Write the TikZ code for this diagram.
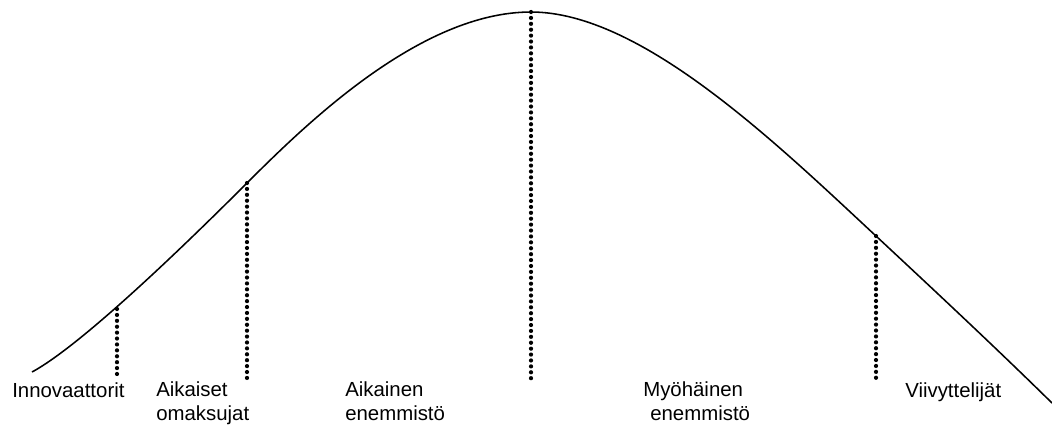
\documentclass[tikz,border=0pt]{standalone}
\usepackage{fontspec}
\setmainfont{Liberation Sans}
\usetikzlibrary{positioning}

\begin{document}
\begin{tikzpicture}[
  x=0.025cm, y=-0.025cm,
  font=\fontsize{14.5}{16.4}\selectfont,
  curve/.style={line width=1.1pt, line join=round},
  divider/.style={line width=3pt, line cap=round, dash pattern=on 0pt off 4.2pt},
  group/.style={anchor=base west, align=left, inner sep=0pt}
]
\useasboundingbox (0,0) rectangle (1052,424);
\coordinate (start) at (32,372);
\coordinate (earlytop) at (247,183);
\coordinate (peak) at (531,12);
\coordinate (latetop) at (876,236);
\coordinate (finish) at (1052,403);
\coordinate (innotop) at (117,309);
\coordinate (base) at (0,379);
\draw[curve] (start) .. controls (82,345) and (187,243) .. (earlytop)
  .. controls (307,123) and (421,12) .. (peak)
  .. controls (641,12) and (776,143) .. (latetop)
  .. controls (935,291) and (995,347) .. (finish);
\draw[divider] (innotop) -- (innotop |- base);
\draw[divider] (earlytop) -- (earlytop |- base);
\draw[divider] (peak) -- (peak |- base);
\draw[divider] (latetop) -- (latetop |- base);
\node[group] (inno) at (12,397) {Innovaattorit};
\node[group] (early) at (156,420) {Aikaiset\\omaksujat};
\node[group] (earlymaj) at (345,420) {Aikainen\\enemmistö};
\node[group] (latemaj) at (643,420) {Myöhäinen\\\hspace*{5pt}enemmistö};
\node[group] (lagg) at (905,397) {Viivyttelijät};
\end{tikzpicture}
\end{document}
